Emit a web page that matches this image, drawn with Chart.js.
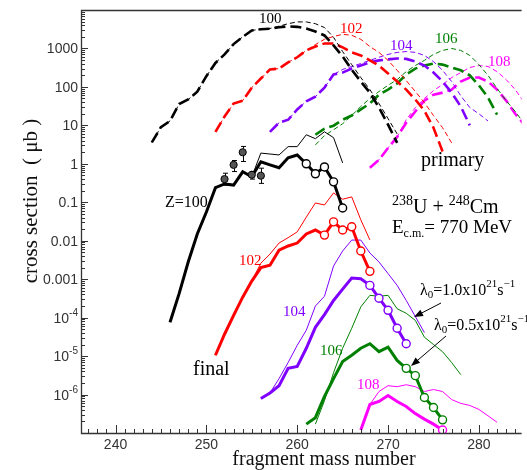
<!DOCTYPE html>
<html>
<head>
<meta charset="utf-8">
<script src="https://cdn.jsdelivr.net/npm/chart.js@4.4.1/dist/chart.umd.min.js"></script>
<style>
  html, body { margin: 0; padding: 0; background: #fff; }
</style>
</head>
<body>
<canvas id="chart" width="527" height="470"></canvas>
<script>
// --- Data: fragment mass number and cross section (μb) ---
const zList = [100, 102, 104, 106, 108];
const zColors = ['#000000', '#ff0000', '#8000ff', '#008000', '#ff00ff'];

// primary fragments (dashed)
const massPrim100 = [244, 245, 246, 247, 248, 249, 250, 251, 252, 253, 254, 255, 256, 257, 258, 259, 260, 261, 262, 263, 264, 265, 266, 267, 268, 269, 270, 271];
const primThick100 = [3.6, 9, 13, 36, 47, 75, 190, 420, 700, 1300, 2000, 2950, 3150, 3250, 3550, 3750, 3650, 3300, 2770, 2180, 1200, 620, 280, 138, 71, 29, 10.4, 3.5];
const primThin100 = [3.6, 9, 13, 36, 47, 75, 190, 420, 700, 1300, 2000, 2950, 3150, 3300, 3800, 4400, 4900, 4900, 4400, 3500, 1950, 830, 380, 175, 85, 37, 15, 6];

const massPrim102 = [251, 252, 253, 254, 255, 256, 257, 258, 259, 260, 261, 262, 263, 264, 265, 266, 267, 268, 269, 270, 271, 272, 273, 274, 275, 276, 277];
const primThick102 = [6.8, 17, 37, 44, 96, 165, 285, 300, 435, 590, 890, 1120, 1350, 1350, 1070, 790, 660, 490, 360, 224, 138, 85, 47, 24, 8.7, 2.1, null];
const primThin102 = [6.8, 17, 37, 44, 96, 165, 285, 300, 435, 590, 890, 1260, 1730, 2050, 2330, 2200, 1730, 1120, 790, 490, 270, 146, 76, 39, 18, 8.7, 3.5];

const massPrim104 = [257, 258, 259, 260, 261, 262, 263, 264, 265, 266, 267, 268, 269, 270, 271, 272, 273, 274, 275, 276, 277, 278, 279, 280, 281];
const primThick104 = [6.8, 11.7, 14, 26, 42, 56, 96, 210, 236, 300, 360, 435, 490, 520, 550, 535, 455, 360, 236, 138, 71, 31, 10, null, null];
const primThin104 = [6.8, 11.7, 14, 26, 42, 56, 96, 210, 285, 340, 405, 490, 590, 700, 790, 830, 790, 660, 455, 270, 138, 59, 29, 20, 13];

const massPrim106 = [262, 263, 264, 265, 266, 267, 268, 269, 270, 271, 272, 273, 274, 275, 276, 277, 278, 279, 280, 281, 282, 283, 284, 285];
const primThick106 = [5.7, 8.2, 9.8, 14, 18, 26, 37, 63, 85, 123, 210, 300, 360, 405, 380, 320, 270, 200, 110, 53, 19, null, null, null];
const primThin106 = [3.1, 5.4, 7.7, 11, 18, 31, 50, 76, 110, 155, 250, 360, 490, 700, 890, 1000, 890, 660, 380, 200, 91, 44, 23, 11];

const massPrim108 = [268, 269, 270, 271, 272, 273, 274, 275, 276, 277, 278, 279, 280, 281, 282, 283, 284, 285];
const primThick108 = [0.79, 1.27, 2.6, 5, 11.7, 23, 44, 63, 71, 85, 138, 175, 175, 138, 85, 44, 20, 10.4];
const primThin108 = [0.79, 1.27, 2.6, 5, 14, 29, 50, 80, 115, 175, 236, 320, 360, 340, 250, 155, 85, 39];

// final fragments (solid)
const massFin100 = [246, 247, 248, 249, 250, 251, 252, 253, 254, 255, 256, 257, 258, 259, 260, 261, 262, 263, 264, 265];
const finThick100 = [7.6e-5, 4.2e-4, 2.8e-3, 0.015, 0.056, 0.24, 0.30, 0.28, 0.62, 0.46, 1.13, 0.94, 0.79, 1.43, 1.7, 1.0, 0.55, 0.83, 0.34, 0.071];
const finThin100 = [7.6e-5, 4.2e-4, 2.8e-3, 0.015, 0.056, 0.24, 0.30, 0.28, 0.62, 0.46, 1.9, 1.8, 1.7, 2.8, 2.8, 5.7, 4.5, 6.8, 4.8, 1.06];

const massFin102 = [251, 252, 253, 254, 255, 256, 257, 258, 259, 260, 261, 262, 263, 264, 265, 266, 267, 268];
const finThick102 = [1.05e-5, 3.7e-5, 1.15e-4, 3.4e-4, 8.9e-4, 2.0e-3, 2.3e-3, 5.7e-3, 7.3e-3, 8.7e-3, 0.015, 0.019, 0.014, 0.031, 0.019, 0.023, 5.4e-3, 1.6e-3];
const finThin102 = [1.05e-5, 3.7e-5, 1.15e-4, 3.4e-4, 8.9e-4, 2.6e-3, 4.5e-3, 8.7e-3, 0.012, 0.017, 0.041, 0.096, 0.085, 0.175, 0.12, 0.138, 0.035, 0.0105];

const massFin104 = [256, 257, 258, 259, 260, 261, 262, 263, 264, 265, 266, 267, 268, 269, 270, 271, 272, 273, 274];
const finThick104 = [7.9e-7, 1.1e-6, 1.7e-6, 4.8e-6, 5.4e-6, 1.6e-5, 5.6e-5, 1.2e-4, 2.8e-4, 5.5e-4, 1.07e-3, 1.03e-3, 6.9e-4, 3.2e-4, 1.55e-4, 5.3e-5, 2.1e-5, null, null];
const finThin104 = [7.9e-7, 1.1e-6, 2.6e-6, 6.8e-6, 1.9e-5, 4.7e-5, 2.0e-4, 3.6e-4, 2.2e-3, 5.4e-3, 0.0104, 0.0104, 4.8e-3, 2.8e-3, 1.4e-3, 6.9e-4, 2.8e-4, 1.07e-4, 4.1e-5];

const massFin106 = [261, 262, 263, 264, 265, 266, 267, 268, 269, 270, 271, 272, 273, 274, 275, 276, 277, 278];
const finThick106 = [1.7e-7, 2.5e-7, 8.9e-7, 2.6e-6, 7.2e-6, 1.05e-5, 1.6e-5, 2.1e-5, 1.3e-5, 1.7e-5, 7.7e-6, 4.8e-6, 3.1e-6, 8.4e-7, 4.6e-7, 2.2e-7, null, null];
const finThin106 = [null, 1.7e-7, 6.9e-7, 3.7e-6, 1.6e-5, 5.3e-5, 1.9e-4, 3.8e-4, 3.6e-4, 3.8e-4, 1.7e-4, 1.3e-4, 8.5e-5, 3.1e-5, 2.0e-5, 1.3e-5, 6.8e-6, 3.3e-6];

const massFin108 = [267, 268, 269, 270, 271, 272, 273, 274, 275, 276, 277, 278, 279, 280, 281, 282];
const finThick108 = [1.2e-7, 5.5e-7, 6.6e-7, 9.4e-7, 6.6e-7, 4.9e-7, 3.2e-7, 2.3e-7, 1.7e-7, 1.2e-7, null, null, null, null, null, null];
const finThin108 = [1.2e-7, 5.5e-7, 1.2e-6, 1.7e-6, 1.6e-6, 1.8e-6, 1.6e-6, 1.2e-6, 1.35e-6, 1.2e-6, 7.4e-7, 5.9e-7, 5.2e-7, 4.1e-7, 2.8e-7, 1.9e-7];

// open circles on the thick final curves start at these masses
const circleFrom = [261, 263, 268, 272, 276];

// measured Z=100 points with error bars
const expMass = [252, 253, 254, 255, 256];
const expVal = [0.40, 0.94, 2.0, 0.52, 0.49];
const expLo = [0.28, 0.63, 1.15, 0.40, 0.31];
const expHi = [0.57, 1.22, 2.83, 0.63, 0.77];

// axes
const xMin = 236.2, xMax = 284.7;
const yMin = 1e-7, yMax = 1e4;
const xTickValues = [240, 250, 260, 270, 280];
const yTickValues = [1e3, 1e2, 10, 1, 0.1, 0.01, 0.001, 1e-4, 1e-5, 1e-6];
const yTickLabels = [['1000', ''], ['100', ''], ['10', ''], ['1', ''], ['0.1', ''], ['0.01', ''], ['0.001', ''], ['10', '-4'], ['10', '-5'], ['10', '-6']];

// --- Build datasets ---
const massPrim = [massPrim100, massPrim102, massPrim104, massPrim106, massPrim108];
const primThick = [primThick100, primThick102, primThick104, primThick106, primThick108];
const primThin = [primThin100, primThin102, primThin104, primThin106, primThin108];
const massFin = [massFin100, massFin102, massFin104, massFin106, massFin108];
const finThick = [finThick100, finThick102, finThick104, finThick106, finThick108];
const finThin = [finThin100, finThin102, finThin104, finThin106, finThin108];

function pts(mass, vals) {
  return mass.map((m, i) => ({ x: m, y: vals[i] }));
}

const datasets = [];
datasets.push({
  label: 'exp Z=100',
  data: pts(expMass, expVal),
  showLine: false,
  pointRadius: 3.6,
  pointBackgroundColor: '#555',
  pointBorderColor: '#000',
  pointBorderWidth: 1
});
zList.forEach((z, i) => {
  const color = zColors[i];
  datasets.push({
    label: 'final ' + z,
    data: pts(massFin[i], finThick[i]),
    borderColor: color,
    borderWidth: 3,
    pointRadius: ctx => (ctx.raw && ctx.raw.x >= circleFrom[i] ? 4 : 0),
    pointBackgroundColor: '#fff',
    pointBorderColor: color,
    pointBorderWidth: 1.4
  });
  datasets.push({
    label: 'final thin ' + z,
    data: pts(massFin[i], finThin[i]),
    borderColor: color,
    borderWidth: 1,
    pointRadius: 0
  });
  datasets.push({
    label: 'primary ' + z,
    data: pts(massPrim[i], primThick[i]),
    borderColor: color,
    borderWidth: 2.6,
    borderDash: [11, 5],
    pointRadius: 0
  });
  datasets.push({
    label: 'primary thin ' + z,
    data: pts(massPrim[i], primThin[i]),
    borderColor: color,
    borderWidth: 1,
    borderDash: [5, 3],
    pointRadius: 0
  });
});

// --- Text helpers ---
const SERIF = '"Liberation Serif", "Times New Roman", serif';
const SANS = '"Liberation Sans", Arial, sans-serif';

function drawParts(ctx, parts, x, y, color) {
  let cx = x;
  ctx.fillStyle = color;
  ctx.textAlign = 'left';
  ctx.textBaseline = 'alphabetic';
  parts.forEach(p => {
    ctx.font = p.size + 'px ' + (p.font || SERIF);
    ctx.fillText(p.t, cx, y + (p.dy || 0));
    cx += ctx.measureText(p.t).width;
  });
}

function arrow(ctx, x1, y1, x2, y2) {
  const ang = Math.atan2(y2 - y1, x2 - x1);
  ctx.beginPath();
  ctx.moveTo(x1, y1);
  ctx.lineTo(x2 - 6 * Math.cos(ang), y2 - 6 * Math.sin(ang));
  ctx.stroke();
  ctx.beginPath();
  ctx.moveTo(x2, y2);
  ctx.lineTo(x2 - 9 * Math.cos(ang) + 3.5 * Math.sin(ang), y2 - 9 * Math.sin(ang) - 3.5 * Math.cos(ang));
  ctx.lineTo(x2 - 9 * Math.cos(ang) - 3.5 * Math.sin(ang), y2 - 9 * Math.sin(ang) + 3.5 * Math.cos(ang));
  ctx.closePath();
  ctx.fill();
}

// labels placed on the canvas (left x, baseline y)
const notes = [
  { t: '100', x: 259, y: 23, c: 0, s: 15 },
  { t: '102', x: 340, y: 33, c: 1, s: 15 },
  { t: '104', x: 390, y: 50, c: 2, s: 15 },
  { t: '106', x: 435, y: 43, c: 3, s: 15 },
  { t: '108', x: 488, y: 66, c: 4, s: 15 },
  { t: 'Z=100', x: 165, y: 207, c: 0, s: 16 },
  { t: '102', x: 239, y: 265, c: 1, s: 15 },
  { t: '104', x: 283, y: 316, c: 2, s: 15 },
  { t: '106', x: 320, y: 355, c: 3, s: 15 },
  { t: '108', x: 357, y: 389, c: 4, s: 15 },
  { t: 'final', x: 193, y: 375, c: 0, s: 20 },
  { t: 'primary', x: 421, y: 166, c: 0, s: 20 }
];

// --- Plugins ---
const errorBars = {
  id: 'errorBars',
  afterDatasetsDraw(chart) {
    const { ctx, scales: { x, y } } = chart;
    ctx.save();
    ctx.strokeStyle = '#000';
    ctx.lineWidth = 1;
    expMass.forEach((m, i) => {
      const px = Math.round(x.getPixelForValue(m)) + 0.5;
      const top = y.getPixelForValue(expHi[i]);
      const bot = y.getPixelForValue(expLo[i]);
      const mid = y.getPixelForValue(expVal[i]);
      ctx.beginPath();
      ctx.moveTo(px, top); ctx.lineTo(px, mid - 3.6);
      ctx.moveTo(px, mid + 3.6); ctx.lineTo(px, bot);
      ctx.moveTo(px - 2.5, top); ctx.lineTo(px + 2.5, top);
      ctx.moveTo(px - 2.5, bot); ctx.lineTo(px + 2.5, bot);
      ctx.stroke();
    });
    ctx.restore();
  }
};

const frameAndText = {
  id: 'frameAndText',
  afterDraw(chart) {
    const { ctx, chartArea: a, scales: { x, y } } = chart;
    ctx.save();

    // frame: left, top, bottom
    ctx.strokeStyle = '#333';
    ctx.lineWidth = 1.3;
    ctx.beginPath();
    ctx.moveTo(a.right, a.top + 0.5);
    ctx.lineTo(a.left + 0.5, a.top + 0.5);
    ctx.lineTo(a.left + 0.5, a.bottom + 0.5);
    ctx.lineTo(a.right, a.bottom + 0.5);
    ctx.stroke();

    // x ticks, pointing inward
    ctx.lineWidth = 1;
    ctx.beginPath();
    for (let m = Math.ceil(xMin); m <= xMax; m++) {
      const px = Math.round(x.getPixelForValue(m)) + 0.5;
      const len = m % 10 === 0 ? 8 : 4;
      ctx.moveTo(px, a.bottom);
      ctx.lineTo(px, a.bottom - len);
    }
    // y ticks, log minor ticks
    for (let d = -7; d <= 3; d++) {
      for (let k = 1; k <= 9; k++) {
        const v = k * Math.pow(10, d);
        if (v <= yMin || v >= yMax) continue;
        const py = Math.round(y.getPixelForValue(v)) + 0.5;
        const len = k === 1 ? 7 : 4;
        ctx.moveTo(a.left, py);
        ctx.lineTo(a.left + len, py);
      }
    }
    ctx.stroke();

    // tick labels
    ctx.fillStyle = '#333';
    ctx.font = '14px ' + SANS;
    ctx.textAlign = 'center';
    ctx.textBaseline = 'middle';
    xTickValues.forEach(v => ctx.fillText(String(v), x.getPixelForValue(v), a.bottom + 12));

    yTickValues.forEach((v, i) => {
      const [base, sup] = yTickLabels[i];
      const py = y.getPixelForValue(v);
      ctx.font = '14px ' + SANS;
      const wb = ctx.measureText(base).width;
      ctx.font = '10px ' + SANS;
      const ws = sup ? ctx.measureText(sup).width : 0;
      const right = a.left - 3;
      ctx.textAlign = 'left';
      ctx.textBaseline = 'alphabetic';
      ctx.font = '14px ' + SANS;
      ctx.fillText(base, right - wb - ws, py + 5);
      if (sup) {
        ctx.font = '10px ' + SANS;
        ctx.fillText(sup, right - ws, py - 2);
      }
    });

    // axis titles
    ctx.fillStyle = '#111';
    ctx.font = '20px ' + SERIF;
    ctx.textAlign = 'center';
    ctx.textBaseline = 'alphabetic';
    ctx.fillText('fragment mass number', 324, 465);
    ctx.save();
    ctx.translate(37, 201);
    ctx.rotate(-Math.PI / 2);
    ctx.font = '21px ' + SERIF;
    ctx.fillText('cross section  ( μb )', 0, 0);
    ctx.restore();

    // curve labels
    notes.forEach(n => {
      ctx.fillStyle = zColors[n.c];
      ctx.font = n.s + 'px ' + SERIF;
      ctx.textAlign = 'left';
      ctx.fillText(n.t, n.x, n.y);
    });

    // reaction
    drawParts(ctx, [
      { t: '238', size: 14, dy: -8 }, { t: 'U + ', size: 20 },
      { t: '248', size: 14, dy: -8 }, { t: 'Cm', size: 20 }
    ], 392, 213, '#000');
    drawParts(ctx, [
      { t: 'E', size: 19 }, { t: 'c.m.', size: 12, dy: 4 }, { t: '= 770 MeV', size: 19 }
    ], 392, 233, '#000');

    // friction strength notes
    drawParts(ctx, [
      { t: 'λ', size: 16 }, { t: '0', size: 11, dy: 3 }, { t: '=1.0x10', size: 16 },
      { t: '21', size: 11, dy: -8 }, { t: 's', size: 16 }, { t: '−1', size: 11, dy: -8 }
    ], 420, 295, '#000');
    drawParts(ctx, [
      { t: 'λ', size: 16 }, { t: '0', size: 11, dy: 3 }, { t: '=0.5x10', size: 16 },
      { t: '21', size: 11, dy: -8 }, { t: 's', size: 16 }, { t: '−1', size: 11, dy: -8 }
    ], 434, 330, '#000');

    ctx.strokeStyle = '#000';
    ctx.fillStyle = '#000';
    ctx.lineWidth = 1;
    arrow(ctx, 441, 303, 414, 317);
    arrow(ctx, 446, 336, 411, 366);

    ctx.restore();
  }
};

// --- Chart ---
new Chart(document.getElementById('chart'), {
  type: 'line',
  data: { datasets },
  options: {
    responsive: false,
    animation: false,
    layout: { padding: { left: 81, top: 10, right: 0, bottom: 37 } },
    plugins: { legend: { display: false }, tooltip: { enabled: false } },
    elements: { line: { tension: 0 } },
    scales: {
      x: { type: 'linear', min: xMin, max: xMax, display: false },
      y: { type: 'logarithmic', min: yMin, max: yMax, display: false }
    }
  },
  plugins: [errorBars, frameAndText]
});
</script>
</body>
</html>
